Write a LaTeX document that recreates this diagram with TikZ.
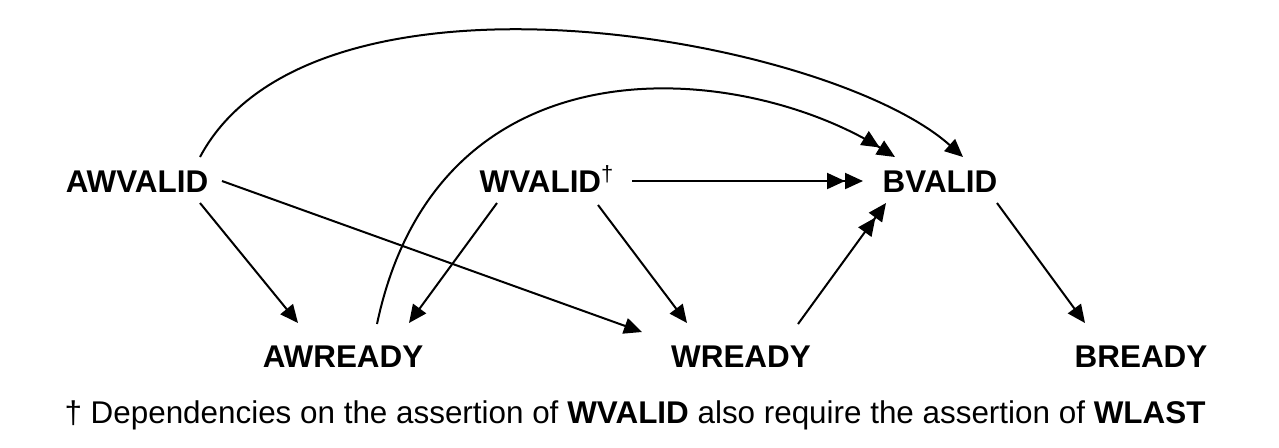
\documentclass[tikz,border=0pt]{standalone}
\usepackage{fontspec}
\setmainfont{Liberation Sans}
\usetikzlibrary{arrows.meta}

\tikzset{
  sig/.style={font=\fontsize{15.7}{18}\selectfont\bfseries, anchor=base, inner sep=0pt},
  one/.style={-{Triangle[length=9pt,width=8pt]}, line width=1pt},
  two/.style={-{Triangle[length=9pt,width=8pt]Triangle[length=9pt,width=8pt]}, line width=1pt}
}

\begin{document}
\begin{tikzpicture}[x=0.5pt,y=-0.5pt]
      \useasboundingbox (0,0) rectangle (1279,447);
      % signals
      \node [sig] (awvalid) at (137,192) {AWVALID};
      \node [sig] (wvalid) at (547,192) {WVALID\textsuperscript{\mdseries †}};
      \node [sig] (bvalid) at (940,192) {BVALID};
      \node [sig] (awready) at (343,367) {AWREADY};
      \node [sig] (wready) at (741,367) {WREADY};
      \node [sig] (bready) at (1141,367) {BREADY};
      \node [anchor=base, inner sep=0pt, font=\fontsize{15.7}{18}\selectfont] (note) at (635,423)
        {† Dependencies on the assertion of \textbf{WVALID} also require the assertion of \textbf{WLAST}};
      % straight dependencies
      \draw [one] ([shift={(63,11)}]awvalid.base) -- ([shift={(-45,-44)}]awready.base);
      \draw [one] ([shift={(85,-11)}]awvalid.base) -- ([shift={(-99,-35)}]wready.base);
      \draw [one] ([shift={(-50,11)}]wvalid.base) -- ([shift={(66,-44)}]awready.base);
      \draw [one] ([shift={(51,13)}]wvalid.base) -- ([shift={(-54,-44)}]wready.base);
      \draw [two] ([shift={(85,-11)}]wvalid.base) -- ([shift={(-77,-11)}]bvalid.base);
      \draw [two] ([shift={(57,-43)}]wready.base) -- ([shift={(-54,11)}]bvalid.base);
      \draw [one] ([shift={(57,11)}]bvalid.base) -- ([shift={(-56,-44)}]bready.base);
      % curved dependencies
      \draw [one] ([shift={(63,-35)}]awvalid.base) .. controls (313,-55) and (829,37) .. ([shift={(23,-35)}]bvalid.base);
      \draw [two] ([shift={(34,-43)}]awready.base) .. controls (439,31) and (742,62) .. ([shift={(-45,-35)}]bvalid.base);
\end{tikzpicture}
\end{document}
